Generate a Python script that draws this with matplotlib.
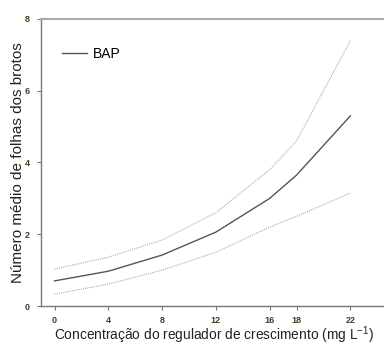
import numpy as np
import matplotlib.pyplot as plt

plt.rcParams['font.family'] = ['Liberation Sans', 'DejaVu Sans']
plt.rcParams['mathtext.fontset'] = 'custom'
plt.rcParams['mathtext.rm'] = 'Liberation Sans'
plt.rcParams['mathtext.default'] = 'rm'

# Concentração de BAP (mg L-1)
conc = [0, 4, 8, 12, 16, 18, 22]
media = [0.70, 0.97, 1.42, 2.06, 3.00, 3.65, 5.30]
superior = [1.03, 1.36, 1.84, 2.60, 3.80, 4.60, 7.40]
inferior = [0.33, 0.61, 1.00, 1.50, 2.20, 2.50, 3.15]

xticks = [0, 4, 8, 12, 16, 18, 22]
yticks = [0, 2, 4, 6, 8]

fig = plt.figure(figsize=(3.84, 3.45), dpi=100)
ax = fig.add_axes([0.107, 0.113, 0.893, 0.832])

ax.plot(conc, media, color='#555555', linewidth=1.0, label='BAP')
ax.plot(conc, superior, color='#aaaaaa', linewidth=0.8, linestyle=(0, (1, 1)))
ax.plot(conc, inferior, color='#aaaaaa', linewidth=0.8, linestyle=(0, (1, 1)))

ax.set_xlim(-1, 24.5)
ax.set_ylim(0, 8)
ax.set_xticks(xticks)
ax.set_yticks(yticks)
ax.tick_params(axis='both', labelsize=6.5, length=3, width=0.8, color='#777777',
               labelcolor='#4a3a20')
ax.tick_params(axis='x', pad=4)
ax.tick_params(axis='y', pad=5)
for lab in ax.get_xticklabels() + ax.get_yticklabels():
    lab.set_fontweight('bold')

ax.spines['right'].set_visible(False)
ax.spines['top'].set_color('#aaaaaa')
ax.spines['top'].set_linewidth(1.5)
ax.spines['left'].set_color('#777777')
ax.spines['bottom'].set_color('#777777')
ax.spines['left'].set_linewidth(1.0)
ax.spines['bottom'].set_linewidth(1.0)

# x label placed directly so it sits close under the tick labels
fig.text(0.557, 0.029, 'Concentração do regulador de crescimento (mg L$^{-1}$)',
         fontsize=9.9, color='#222222', ha='center', va='center')
ax.set_ylabel('Número médio de folhas dos brotos', fontsize=11, color='#222222', labelpad=0)

ax.legend(loc='upper left', bbox_to_anchor=(0.025, 0.945), frameon=False, fontsize=10,
          handlelength=1.8, handletextpad=0.4)

fig.savefig('out.png', dpi=100)
